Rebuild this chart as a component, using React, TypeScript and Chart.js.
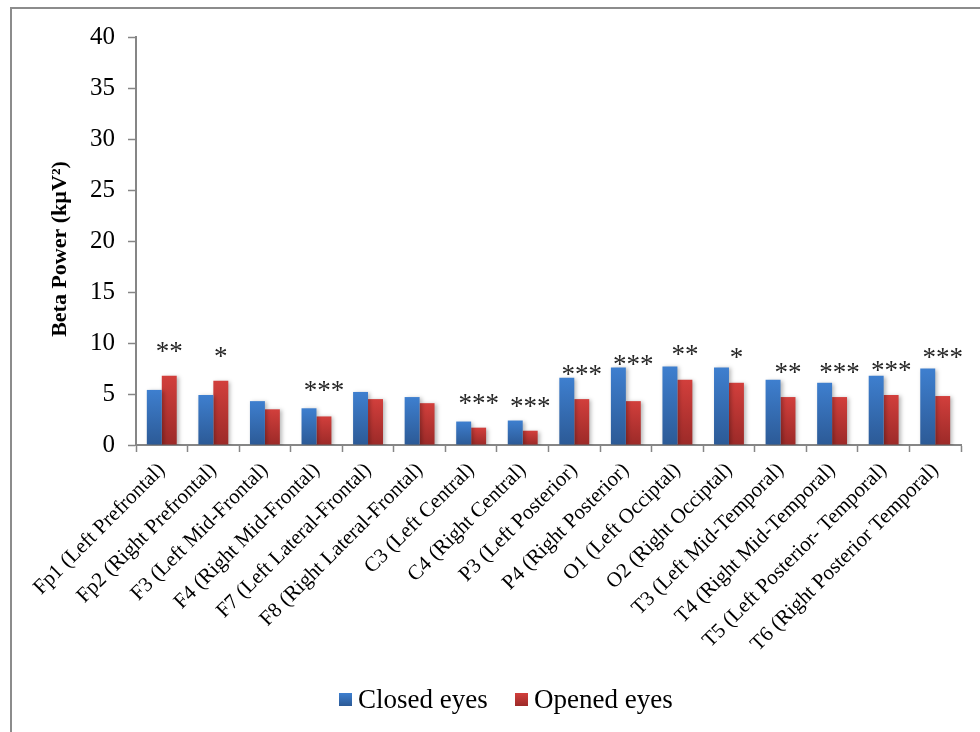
import { useEffect, useRef } from "react";
import { Chart, registerables } from "chart.js";

Chart.register(...registerables);

// Electrode sites (x categories)
const electrodes = [
  "Fp1 (Left Prefrontal)",
  "Fp2 (Right Prefrontal)",
  "F3 (Left Mid-Frontal)",
  "F4 (Right Mid-Frontal)",
  "F7 (Left Lateral-Frontal)",
  "F8 (Right Lateral-Frontal)",
  "C3 (Left Central)",
  "C4 (Right Central)",
  "P3 (Left Posterior)",
  "P4 (Right Posterior)",
  "O1 (Left Occiptal)",
  "O2 (Right Occiptal)",
  "T3 (Left Mid-Temporal)",
  "T4 (Right Mid-Temporal)",
  "T5 (Left Posterior- Temporal)",
  "T6 (Right Posterior Temporal)",
];

// Mean beta power (kµV²)
const closedEyes = [5.4, 4.9, 4.3, 3.6, 5.2, 4.7, 2.3, 2.4, 6.6, 7.6, 7.7, 7.6, 6.4, 6.1, 6.8, 7.5];
const openedEyes = [6.8, 6.3, 3.5, 2.8, 4.5, 4.1, 1.7, 1.4, 4.5, 4.3, 6.4, 6.1, 4.7, 4.7, 4.9, 4.8];

// Significance marks and the axis level each mark is centred on
const significance = ["**", "*", "", "***", "", "", "***", "***", "***", "***", "**", "*", "**", "***", "***", "***"];
const significanceLevel = [9.6, 9.1, 0, 5.7, 0, 0, 4.5, 4.2, 7.35, 8.3, 9.3, 9.0, 7.5, 7.5, 7.7, 9.0];

// Y axis range
const yMin = 0;
const yMax = 40;
const yStep = 5;

const SERIF = "'Times New Roman', 'Liberation Serif', serif";
const AXIS_GREY = "#868686";

const BLUE_LIGHT = "#3e7fcf";
const BLUE_DARK = "#2c5a96";
const RED_LIGHT = "#d23f3c";
const RED_DARK = "#9c2a28";

function verticalGradient(light: string, dark: string) {
  return (c: any) => {
    const chart = c.chart;
    const { chartArea, scales } = chart;
    if (!chartArea || c.type !== "data" || !scales.y) return light;
    const top = scales.y.getPixelForValue(c.raw as number);
    const base = scales.y.getPixelForValue(0);
    if (!isFinite(top) || !isFinite(base) || top === base) return light;
    const g = chart.ctx.createLinearGradient(0, top, 0, base);
    g.addColorStop(0, light);
    g.addColorStop(1, dark);
    return g;
  };
}

// White page, outer frame, soft bar shadow, y title, significance marks and legend
const decorations = {
  id: "decorations",
  beforeDraw(chart: any) {
    const ctx = chart.ctx;
    ctx.save();
    ctx.fillStyle = "#ffffff";
    ctx.fillRect(0, 0, chart.width, chart.height);
    ctx.strokeStyle = "#8c8c8c";
    ctx.lineWidth = 2;
    ctx.beginPath();
    ctx.moveTo(11, chart.height);
    ctx.lineTo(11, 8);
    ctx.lineTo(chart.width, 8);
    ctx.stroke();
    ctx.restore();
  },
  beforeDatasetsDraw(chart: any) {
    const ctx = chart.ctx;
    ctx.save();
    ctx.shadowColor = "rgba(0,0,0,0.28)";
    ctx.shadowBlur = 4;
    ctx.shadowOffsetX = 2;
    ctx.shadowOffsetY = 1;
  },
  afterDatasetsDraw(chart: any) {
    chart.ctx.restore();
  },
  afterDraw(chart: any) {
    const ctx = chart.ctx;
    const y = chart.scales.y;
    const area = chart.chartArea;

    // y axis title
    ctx.save();
    ctx.translate(60, (area.top + area.bottom) / 2 + 8);
    ctx.rotate(-Math.PI / 2);
    ctx.font = `bold 22px ${SERIF}`;
    ctx.fillStyle = "#000";
    ctx.textAlign = "center";
    ctx.textBaseline = "middle";
    ctx.fillText("Beta Power (kµV²)", 0, 0);
    ctx.restore();

    // significance asterisks over the opened-eyes bar
    const meta = chart.getDatasetMeta(1);
    ctx.save();
    ctx.font = `27px ${SERIF}`;
    ctx.fillStyle = "#262626";
    ctx.textAlign = "center";
    ctx.textBaseline = "alphabetic";
    significance.forEach((mark, i) => {
      if (!mark) return;
      const bar = meta.data[i];
      const cy = y.getPixelForValue(significanceLevel[i]);
      const m = ctx.measureText(mark);
      const off = (m.actualBoundingBoxAscent - m.actualBoundingBoxDescent) / 2;
      ctx.fillText(mark, bar.x, cy + off);
    });
    ctx.restore();

    // legend
    const items = [
      { label: chart.data.datasets[0].label, light: BLUE_LIGHT, dark: BLUE_DARK, x: 339 },
      { label: chart.data.datasets[1].label, light: RED_LIGHT, dark: RED_DARK, x: 515 },
    ];
    ctx.save();
    ctx.font = `27px ${SERIF}`;
    ctx.fillStyle = "#000";
    ctx.textBaseline = "alphabetic";
    items.forEach((it) => {
      const top = 693;
      const g = ctx.createLinearGradient(0, top, 0, top + 13);
      g.addColorStop(0, it.light);
      g.addColorStop(1, it.dark);
      ctx.fillStyle = g;
      ctx.fillRect(it.x, top, 13, 13);
      ctx.fillStyle = "#000";
      ctx.fillText(it.label, it.x + 19, 708);
    });
    ctx.restore();
  },
};

export default function App() {
  const ref = useRef<HTMLCanvasElement | null>(null);

  useEffect(() => {
    if (!ref.current) return;
    const chart = new Chart(ref.current, {
      type: "bar",
      data: {
        labels: electrodes,
        datasets: [
          {
            label: "Closed eyes",
            data: closedEyes,
            backgroundColor: verticalGradient(BLUE_LIGHT, BLUE_DARK),
            borderWidth: 0,
            categoryPercentage: 0.58,
            barPercentage: 1.0,
          },
          {
            label: "Opened eyes",
            data: openedEyes,
            backgroundColor: verticalGradient(RED_LIGHT, RED_DARK),
            borderWidth: 0,
            categoryPercentage: 0.58,
            barPercentage: 1.0,
          },
        ],
      },
      options: {
        responsive: false,
        animation: false,
        devicePixelRatio: 1,
        layout: { padding: { top: 37, right: 19, left: 0, bottom: 0 } },
        plugins: {
          legend: { display: false },
          tooltip: { enabled: false },
        },
        scales: {
          x: {
            offset: true,
            afterFit: (s: any) => {
              s.height = 287;
            },
            grid: {
              offset: true,
              drawOnChartArea: false,
              drawTicks: true,
              tickLength: 7,
              tickColor: AXIS_GREY,
              tickWidth: 1.5,
            },
            border: { color: AXIS_GREY, width: 2 },
            ticks: {
              autoSkip: false,
              maxRotation: 45,
              minRotation: 45,
              padding: 6,
              color: "#000",
              font: { family: SERIF, size: 21 },
            },
          },
          y: {
            min: yMin,
            max: yMax,
            afterFit: (s: any) => {
              s.width = 136;
            },
            grid: {
              drawOnChartArea: false,
              drawTicks: true,
              tickLength: 8,
              tickColor: AXIS_GREY,
              tickWidth: 1.5,
            },
            border: { color: AXIS_GREY, width: 2 },
            ticks: {
              stepSize: yStep,
              padding: 13,
              color: "#000",
              font: { family: SERIF, size: 25 },
            },
          },
        },
      },
      plugins: [decorations],
    });
    return () => chart.destroy();
  }, []);

  return (
    <div style={{ position: "absolute", left: 0, top: 0, width: 980, height: 732, background: "#fff" }}>
      <canvas ref={ref} width={980} height={732} style={{ display: "block" }} />
    </div>
  );
}
